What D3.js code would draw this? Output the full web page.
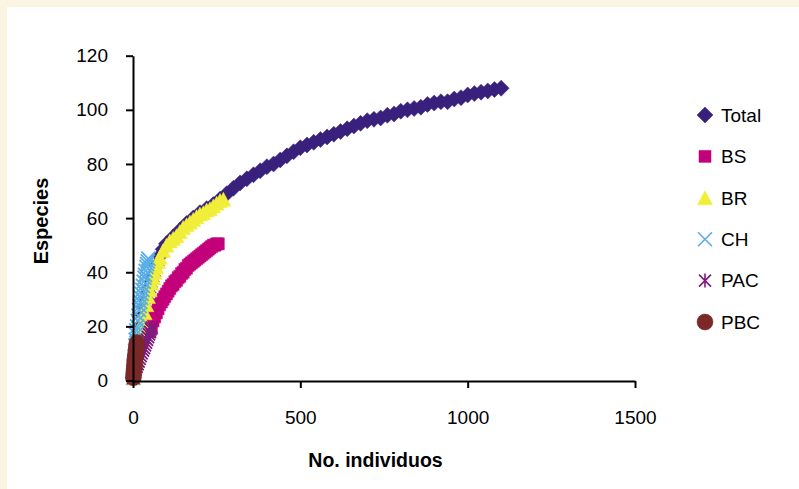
<!DOCTYPE html>
<html>
<head>
<meta charset="utf-8">
<script src="https://cdn.jsdelivr.net/npm/d3@7"></script>
<style>
  body { margin: 0; background: #fbf4e0; }
  text { font-family: "Liberation Sans", Arial, sans-serif; fill: #000; }
</style>
</head>
<body>
<svg id="chart" width="799" height="489"></svg>
<script>
// species accumulation: [no. individuos, especies]
var total = [[1,1],[5,5],[10,9.5],[15,13.5],[20,17],[25,20.5],[30,24],[35,27],[40,30],[45,32.5],
  [50,34.5],[55,36.5],[60,38.5],[70,42.5],[80,46],[90,48.5],[100,50.5],[120,53],[140,55.5],[160,58],
  [180,60],[200,62],[220,63.5],[240,65],[260,67],[280,69],[300,71],[320,73],[340,74.5],
  [360,76],[380,77.5],[400,79],[420,80],[440,81.5],[460,83],[480,84.5],[500,86],[520,87],[540,88],
  [560,89],[580,90],[600,91],[620,92],[640,93],[660,94],[680,95],[700,96],[720,96.5],[740,97],
  [760,98],[780,98.5],[800,99.5],[820,100],[840,100.5],[860,101],[880,102],[900,102.5],[920,103],
  [940,103],[960,104],[980,104.5],[1000,105.5],[1020,106],[1040,106.5],[1060,107],[1080,107.5],[1100,108]];
var bs = [[50,18],[55,20],[60,22],[65,23.5],[70,25],[75,26.5],[80,28],[85,29],[90,30],[95,31],[100,32],
  [105,33],[110,34],[115,35],[120,35.5],[125,36.5],[130,37],[135,38],[140,38.5],[145,39.5],[150,40],
  [155,41],[160,41.5],[165,42.5],[170,43],[175,43.5],[180,44],[185,44.5],[190,45],[195,45.5],[200,46],
  [205,46.5],[210,47],[215,47.5],[220,48],[225,48.5],[230,49],[235,49.5],[240,50],[245,50],[250,50.5],[255,50.5]];
var br = [[1,1],[5,4],[10,8],[15,12],[20,16],[25,19],[30,22],[35,25],[40,28],[45,31],[50,33.5],
  [55,36],[60,38],[65,40],[70,42],[75,44],[80,45.5],[90,48],[100,50],[110,51.5],[120,52.5],[130,53.5],
  [140,55],[150,56.5],[160,57.5],[170,58.5],[180,59.5],[190,60.5],[200,61.5],[210,62],[220,63],
  [230,63.5],[240,64.5],[250,65.5],[260,66.5],[270,67]];
var ch = [[1,1],[2,3],[3,5],[4,7],[5,9],[6,11],[7,13],[8,15],[9,17],[10,18.5],[12,20],[14,22],
  [16,24],[18,26],[20,27.5],[22,29],[24,30.5],[26,32],[28,33.5],[30,35],[32,36.5],[34,38],[36,39],
  [38,40.5],[40,42],[42,43],[44,44],[46,45]];
var pac = [[1,1],[3,2],[5,3],[8,4],[11,5],[14,6],[17,7],[20,8],[23,9],[26,10],[30,11],[33,12],
  [36,13],[39,14],[42,15],[45,16],[48,17],[51,18],[54,19],[56,19.5]];
var pbc = [[1,1],[2,2.5],[3,4],[4,5.5],[5,7],[6,8],[7,9],[8,10],[9,11],[10,12],[11,13],[12,14]];

var seriesNames = ["Total", "BS", "BR", "CH", "PAC", "PBC"];
var seriesData = [total, bs, br, ch, pac, pbc];
var xTicks = [0, 500, 1000, 1500];
var yTicks = [0, 20, 40, 60, 80, 100, 120];

var colors = ["#38207c", "#c3007b", "#f1ee3a", "#5aaee6", "#7e1b7e", "#7a2828"];
var shapes = ["diamond", "square", "triangle", "x", "asterisk", "circle"];

function markerPath(shape) {
  switch (shape) {
    case "diamond": return "M0,-8L8,0L0,8L-8,0Z";
    case "square": return "M-6,-6H6V6H-6Z";
    case "triangle": return "M0,-7L7.5,7L-7.5,7Z";
    case "x": return "M-7,-7L7,7M-7,7L7,-7";
    case "asterisk": return "M-6,-6L6,6M-6,6L6,-6M0,-7V7";
    case "circle": return "M-8,0A8,8 0 1,0 8,0A8,8 0 1,0 -8,0Z";
  }
}
function isStroke(shape) { return shape == "x" || shape == "asterisk"; }

var svg = d3.select("#chart");
svg.append("rect")
  .attr("x", 7).attr("y", 7)
  .attr("width", 792).attr("height", 482)
  .attr("fill", "#fff");

var x = d3.scaleLinear().domain([0, 1500]).range([133, 635]);
var y = d3.scaleLinear().domain([0, 120]).range([380.5, 55.7]);

// markers, in series order (later ones on top)
seriesData.forEach(function(data, i) {
  var shape = shapes[i];
  svg.append("g").selectAll("path")
    .data(data)
    .enter().append("path")
    .attr("d", markerPath(shape))
    .attr("transform", function(d) { return "translate(" + x(d[0]) + "," + y(d[1]) + ")"; })
    .attr("fill", isStroke(shape) ? "none" : colors[i])
    .attr("stroke", colors[i])
    .attr("stroke-width", isStroke(shape) ? 1.8 : 0.5);
});

var xAxis = svg.append("g")
  .attr("transform", "translate(0,381)")
  .call(d3.axisBottom(x).tickValues(xTicks).tickFormat(d3.format("d"))
    .tickSize(7).tickSizeOuter(0).tickPadding(23));
var yAxis = svg.append("g")
  .attr("transform", "translate(133,0)")
  .call(d3.axisLeft(y).tickValues(yTicks).tickFormat(d3.format("d"))
    .tickSize(7).tickSizeOuter(0).tickPadding(18));

[xAxis, yAxis].forEach(function(g) {
  g.select(".domain").attr("stroke", "#000").attr("stroke-width", 2);
  g.selectAll(".tick line").attr("stroke", "#000").attr("stroke-width", 2);
  g.selectAll(".tick text").attr("font-size", "19px")
    .attr("font-family", "'Liberation Sans', Arial, sans-serif");
});

svg.append("text")
  .attr("x", 375.5).attr("y", 467)
  .attr("text-anchor", "middle")
  .attr("font-size", "19.5px").attr("font-weight", "bold")
  .text("No. individuos");

svg.append("text")
  .attr("transform", "translate(48,221) rotate(-90)")
  .attr("text-anchor", "middle")
  .attr("font-size", "20px").attr("font-weight", "bold")
  .text("Especies");

// legend
var legend = svg.append("g").selectAll("g")
  .data(seriesNames)
  .enter().append("g")
  .attr("transform", function(d, i) { return "translate(705," + (115 + i * 41.4) + ")"; });
legend.append("path")
  .attr("d", function(d, i) { return markerPath(shapes[i]); })
  .attr("fill", function(d, i) { return isStroke(shapes[i]) ? "none" : colors[i]; })
  .attr("stroke", function(d, i) { return colors[i]; })
  .attr("stroke-width", function(d, i) { return isStroke(shapes[i]) ? 1.6 : 0.5; });
legend.append("text")
  .attr("x", 16).attr("dy", "0.36em")
  .attr("font-size", "19px")
  .text(function(d) { return d; });
</script>
</body>
</html>
